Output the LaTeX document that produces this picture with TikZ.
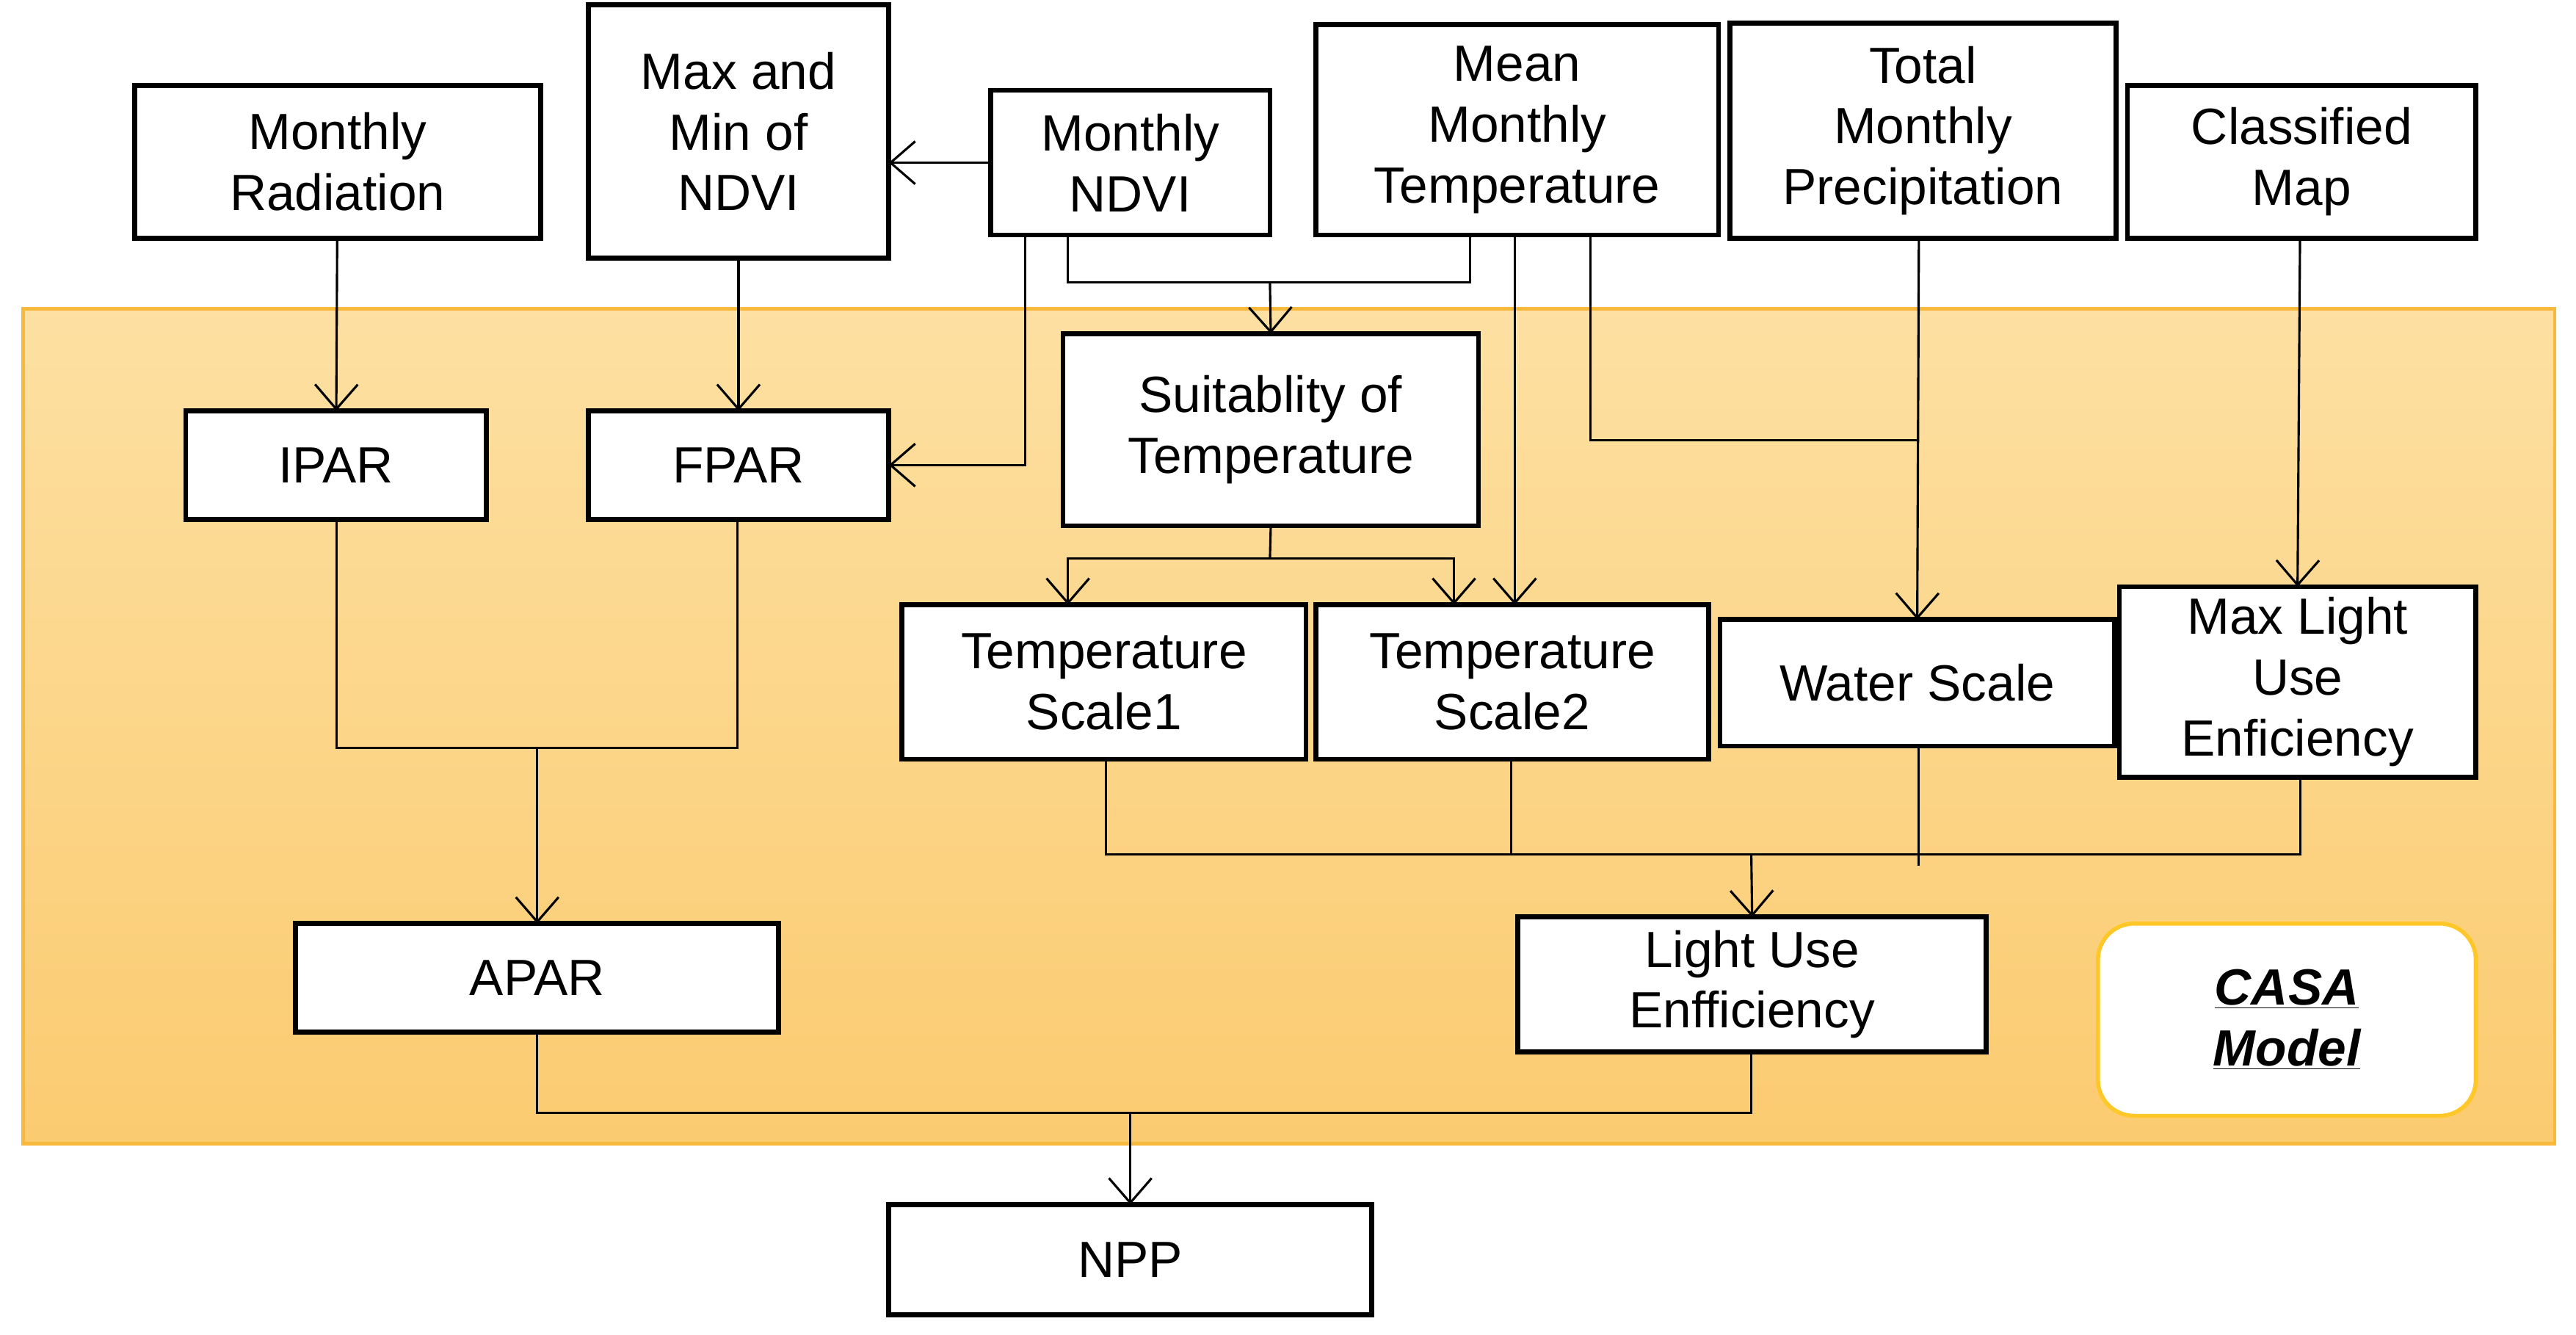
\documentclass[tikz,border=0pt]{standalone}
\usepackage{fontspec}
\setmainfont{Liberation Sans}
\usetikzlibrary{arrows.meta}
\begin{document}
\begin{tikzpicture}[x=1pt,y=-1pt,
 box/.style={draw=black,line width=3pt,fill=white,inner sep=0pt,outer sep=0pt,align=center,font=\fontsize{31}{37}\selectfont},
 con/.style={line width=1.4pt},
 arr/.style={con,-{Straight Barb[length=15pt,width=26pt,line width=1.4pt]}}]
\useasboundingbox (0,0) rectangle (1568,812);
\shade[top color={rgb,255:red,253;green,224;blue,162},bottom color={rgb,255:red,251;green,203;blue,112}] (14,188) rectangle (1555,696);
\draw[draw={rgb,255:red,247;green,184;blue,60},line width=2pt] (14,188) rectangle (1555,696);
\node[box] (rad) at (205.5,98.5) [minimum width=247,minimum height=93] {Monthly\\Radiation};
\node[box] (mm) at (449.5,80) [minimum width=183,minimum height=154] {Max and\\Min of\\NDVI};
\node[box] (ndvi) at (688,99) [minimum width=170,minimum height=88] {Monthly\\NDVI};
\node[box] (mmt) at (923.5,79) [minimum width=245,minimum height=128] {Mean\\Monthly\\Temperature};
\node[box] (tmp) at (1170.5,79.5) [minimum width=235,minimum height=131] {Total\\Monthly\\Precipitation};
\node[box] (cls) at (1401,98.5) [minimum width=212,minimum height=93] {Classified\\Map};
\node[box] (ipar) at (204.5,283) [minimum width=183,minimum height=66] {IPAR};
\node[box] (fpar) at (449.5,283) [minimum width=183,minimum height=66] {FPAR};
\node[box] (suit) at (773.5,261.5) [minimum width=253,minimum height=117] {Suitablity of\\Temperature};
\node[box] (ts1) at (672,415) [minimum width=246,minimum height=94] {Temperature\\Scale1};
\node[box] (ts2) at (920.5,415) [minimum width=239,minimum height=94] {Temperature\\Scale2};
\node[box] (ws) at (1167,415.5) [minimum width=240,minimum height=77] {Water Scale};
\node[box] (mlue) at (1398.5,415) [minimum width=217,minimum height=116] {Max Light\\Use\\Enficiency};
\node[box] (apar) at (327,595) [minimum width=294,minimum height=66] {APAR};
\node[box] (lue) at (1066.5,599) [minimum width=285,minimum height=82] {Light Use\\Enfficiency};
\node[box,draw={rgb,255:red,255;green,200;blue,40},rounded corners=22pt,line width=2.5pt,font=\fontsize{31}{37}\selectfont\bfseries\itshape] (casa) at (1392,620.5) [minimum width=230,minimum height=117] {\underline{CASA}\\\underline{Model}};
\node[box] (npp) at (688,766.5) [minimum width=294,minimum height=67] {NPP};
% connectors
\draw[arr] (rad) -- (ipar);
\draw[arr] (mm) -- (fpar);
\draw[arr] (ndvi.west) -- (ndvi.west -| mm.east);
\draw[arr] (624,143) |- (fpar.east);
\coordinate (j1) at (773,172);
\draw[con] (650,143) |- (895,172) -- (895,143);
\draw[arr] (j1) -- (suit.north);
\draw[arr] (922,143) -- (922,368);
\draw[con] (968,143) |- (1168,268);
\draw[arr] (1168,145) -- (ws.north);
\draw[arr] (1400,145) -- (mlue.north);
\coordinate (j2) at (773,340);
\draw[con] (suit.south) -- (j2);
\draw[arr] (j2) -| (650,368);
\draw[arr] (j2) -| (885,368);
\coordinate (j3) at (1066,520);
\draw[con] (673,462) |- (1400,520) -- (1400,473);
\draw[con] (920,462) -- (920,520);
\draw[con] (1168,454) -- (1168,527);
\draw[arr] (j3) -- (lue.north);
\coordinate (j4) at (327,455);
\draw[con] (205,316) |- (449,455) -- (449,316);
\draw[arr] (j4) -- (apar.north);
\coordinate (j5) at (688,677);
\draw[con] (327,628) |- (1066,677) -- (1066,640);
\draw[arr] (j5) -- (npp.north);
\end{tikzpicture}
\end{document}
